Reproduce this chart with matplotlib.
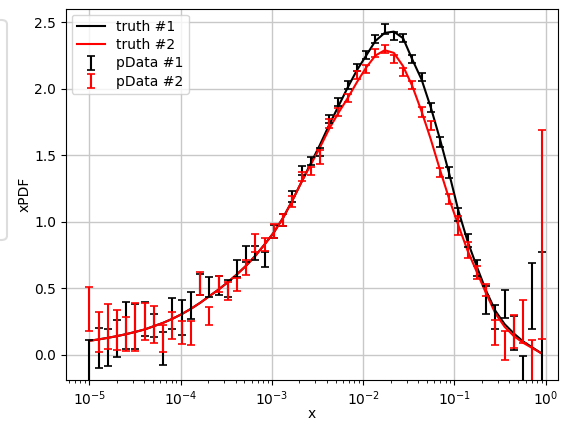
import numpy as np
import matplotlib
matplotlib.use("Agg")
import matplotlib.pyplot as plt
from matplotlib.patches import FancyBboxPatch

# x grid of the pseudo-data (~0.1 decade apart)
x = [1.000e-5, 1.262e-5, 1.593e-5, 2.011e-5, 2.538e-5, 3.203e-5, 4.043e-5, 5.103e-5, 6.441e-5, 8.129e-5,
     1.026e-4, 1.295e-4, 1.634e-4, 2.062e-4, 2.603e-4, 3.285e-4, 4.146e-4, 5.233e-4, 6.604e-4, 8.335e-4,
     1.052e-3, 1.328e-3, 1.676e-3, 2.115e-3, 2.669e-3, 3.369e-3, 4.252e-3, 5.366e-3, 6.772e-3, 8.548e-3,
     1.079e-2, 1.362e-2, 1.719e-2, 2.169e-2, 2.738e-2, 3.455e-2, 4.361e-2, 5.504e-2, 6.946e-2, 8.768e-2,
     0.1107, 0.1397, 0.1763, 0.2225, 0.2808, 0.3544, 0.4473, 0.5646, 0.7125, 0.8995]

truth1 = [0.105, 0.115, 0.127, 0.140, 0.155, 0.172, 0.190, 0.215, 0.240, 0.270,
          0.305, 0.345, 0.390, 0.440, 0.490, 0.545, 0.605, 0.670, 0.745, 0.830,
          0.920, 1.030, 1.160, 1.300, 1.440, 1.580, 1.730, 1.870, 2.010, 2.140,
          2.250, 2.360, 2.420, 2.430, 2.380, 2.220, 2.070, 1.860, 1.620, 1.360,
          1.080, 0.850, 0.660, 0.480, 0.330, 0.230, 0.160, 0.100, 0.055, 0.010]

truth2 = [0.105, 0.115, 0.127, 0.140, 0.155, 0.172, 0.190, 0.215, 0.240, 0.270,
          0.305, 0.345, 0.390, 0.440, 0.490, 0.545, 0.605, 0.670, 0.745, 0.830,
          0.920, 1.030, 1.160, 1.300, 1.430, 1.560, 1.700, 1.820, 1.930, 2.050,
          2.160, 2.250, 2.290, 2.270, 2.170, 2.020, 1.830, 1.620, 1.390, 1.170,
          0.970, 0.780, 0.620, 0.460, 0.310, 0.210, 0.140, 0.090, 0.050, 0.010]

data1 = [-0.15, 0.05, 0.055, 0.12, 0.22, 0.21, 0.27, 0.22, 0.045, 0.31,
         0.28, 0.37, 0.53, 0.51, 0.52, 0.50, 0.65, 0.76, 0.765, 0.715,
         0.925, 1.01, 1.19, 1.385, 1.46, 1.525, 1.775, 1.90, 2.025, 2.16,
         2.255, 2.375, 2.45, 2.40, 2.385, 2.225, 2.09, 1.86, 1.60, 1.37,
         1.055, 0.86, 0.65, 0.415, 0.285, 0.38, 0.165, -0.20, 0.44, 0.25]
err1 = [0.26, 0.15, 0.14, 0.14, 0.18, 0.17, 0.13, 0.09, 0.125, 0.12,
        0.135, 0.10, 0.08, 0.075, 0.07, 0.065, 0.065, 0.06, 0.055, 0.055,
        0.05, 0.045, 0.04, 0.035, 0.03, 0.03, 0.03, 0.03, 0.03, 0.03,
        0.03, 0.03, 0.035, 0.03, 0.03, 0.03, 0.03, 0.035, 0.035, 0.04,
        0.05, 0.05, 0.06, 0.105, 0.09, 0.105, 0.13, 0.19, 0.25, 0.52]

data2 = [0.345, 0.17, 0.21, 0.185, 0.155, 0.21, 0.25, 0.23, 0.12, 0.22,
         0.165, 0.165, 0.535, 0.29, 0.535, 0.48, 0.53, 0.655, 0.84, 0.83,
         0.93, 1.01, 1.15, 1.34, 1.385, 1.486, 1.74, 1.825, 1.93, 2.10,
         2.15, 2.27, 2.30, 2.225, 2.125, 2.025, 1.825, 1.725, 1.37, 1.17,
         0.97, 0.79, 0.62, 0.49, 0.165, 0.07, 0.175, 0.25, -0.10, 0.905]
err2 = [0.165, 0.15, 0.17, 0.15, 0.13, 0.18, 0.14, 0.14, 0.10, 0.10,
        0.085, 0.09, 0.085, 0.07, 0.06, 0.07, 0.05, 0.055, 0.065, 0.05,
        0.05, 0.045, 0.04, 0.035, 0.03, 0.05, 0.035, 0.03, 0.03, 0.03,
        0.03, 0.03, 0.03, 0.03, 0.03, 0.03, 0.035, 0.035, 0.035, 0.04,
        0.07, 0.06, 0.05, 0.045, 0.095, 0.11, 0.125, 0.165, 0.21, 0.785]

W, H = 561, 421
DPI = 100
fig = plt.figure(figsize=(W / DPI, H / DPI), dpi=DPI)
ax = fig.add_axes([66 / W, 1 - 380 / H, (558 - 66) / W, (380 - 9) / H])

ax.plot(x, truth1, color="black", lw=1.5, label="truth #1")
ax.plot(x, truth2, color="red", lw=1.5, label="truth #2")
ax.errorbar(x, data1, yerr=err1, fmt="none", ecolor="black", capsize=2.8,
            elinewidth=1.5, capthick=1.2, label="pData #1")
ax.errorbar(x, data2, yerr=err2, fmt="none", ecolor="red", capsize=2.8,
            elinewidth=1.5, capthick=1.2, label="pData #2")

ax.set_xscale("log")
ax.set_xlim(10 ** -5.255, 10 ** 0.134)
ax.set_ylim(-0.19, 2.6)
ax.set_yticks([0.0, 0.5, 1.0, 1.5, 2.0, 2.5])
ax.grid(True, which="major", color="#c8c8c8", lw=1.0)
ax.set_axisbelow(True)
ax.set_xlabel("x")
ax.xaxis.set_label_coords(0.5, (380 - 407) / 371)
ax.set_ylabel("xPDF", labelpad=2)
ax.legend(loc="upper left", labelspacing=0.3, borderaxespad=0.4)

# faint panel edge visible at the far left of the screenshot
fig.patches.append(FancyBboxPatch((-10 / W, 1 - 240 / H), 17 / W, 220 / H,
                                  boxstyle="round,pad=0,rounding_size=0.01",
                                  transform=fig.transFigure, facecolor="white",
                                  edgecolor="#dddddd", lw=1.5, zorder=0))

fig.savefig("out.png", dpi=DPI)
